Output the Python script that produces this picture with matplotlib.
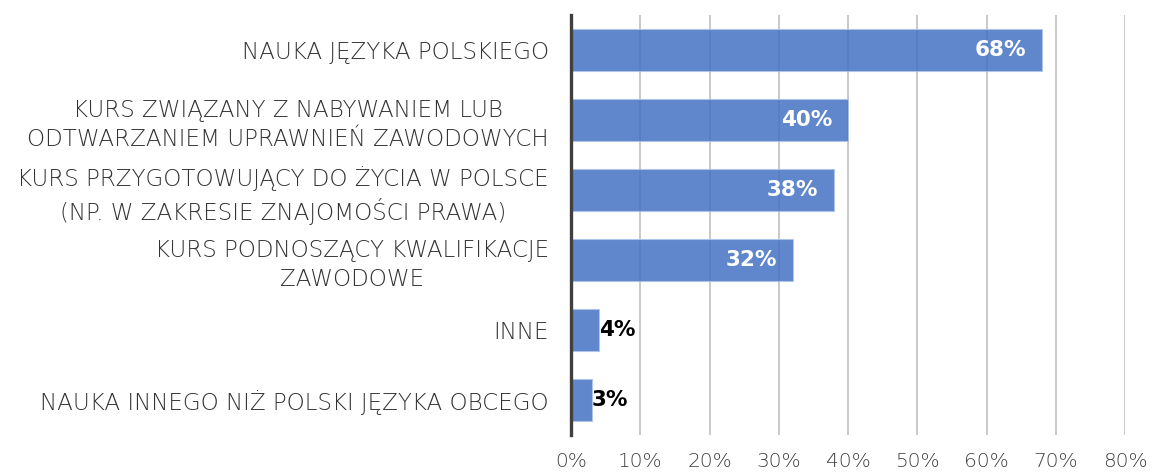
import matplotlib
matplotlib.use("Agg")
import matplotlib.pyplot as plt
from matplotlib.ticker import PercentFormatter, MultipleLocator
import matplotlib.transforms as mtransforms

categories = [
    "NAUKA JĘZYKA POLSKIEGO",
    "KURS ZWIĄZANY Z NABYWANIEM LUB\nODTWARZANIEM UPRAWNIEŃ ZAWODOWYCH",
    "KURS PRZYGOTOWUJĄCY DO ŻYCIA W POLSCE\n(NP. W ZAKRESIE ZNAJOMOŚCI PRAWA)",
    "KURS PODNOSZĄCY KWALIFIKACJE\nZAWODOWE",
    "INNE",
    "NAUKA INNEGO NIŻ POLSKI JĘZYKA OBCEGO",
]
values = [0.68, 0.40, 0.38, 0.32, 0.04, 0.03]
value_labels = ["68%", "40%", "38%", "32%", "4%", "3%"]

plt.rcParams['font.family'] = ['DejaVu Sans']

fig = plt.figure(figsize=(11.53, 4.74), dpi=100)
ax = fig.add_axes([571/1153, 39/474, (1125-571)/1153, 420/474])

ypos = list(range(len(categories)))
ax.barh(ypos, values, height=0.59, color="#4472C4", alpha=0.85,
        edgecolor="#AFC3E8", linewidth=0.8, zorder=2)
ax.set_ylim(len(categories) - 0.5, -0.5)
ax.set_xlim(0, 0.8)
ax.xaxis.set_major_locator(MultipleLocator(0.1))
ax.xaxis.set_major_formatter(PercentFormatter(1.0, decimals=0))

ax.set_yticks(ypos)
ax.set_yticklabels(categories, fontsize=16.6, color="#333333", fontweight="light",
                   multialignment="center", linespacing=1.28)
ax.tick_params(axis="y", length=0, pad=16)
ax.tick_params(axis="x", length=0, pad=12, labelsize=14.5, labelcolor="#404040")
for t in ax.get_xticklabels():
    t.set_fontweight("light")

ax.grid(axis="x", color="#C0C0C0", linewidth=1.2, zorder=0)
ax.set_axisbelow(True)
for s in ["top", "right", "bottom"]:
    ax.spines[s].set_visible(False)
ax.spines["left"].set_color("#404040")
ax.spines["left"].set_linewidth(2.4)
ax.spines["left"].set_zorder(3)

for y, v, lab in zip(ypos, values, value_labels):
    if v > 0.1:
        off = mtransforms.offset_copy(ax.transData, fig=fig, x=-16, y=0, units="dots")
        ax.text(v, y, lab, transform=off, ha="right", va="center",
                color="white", fontsize=15.5, fontweight="bold", zorder=4)
    else:
        ax.text(v, y, lab, ha="left", va="center",
                color="black", fontsize=15.5, fontweight="bold", zorder=4)

fig.savefig("out.png", dpi=100)
